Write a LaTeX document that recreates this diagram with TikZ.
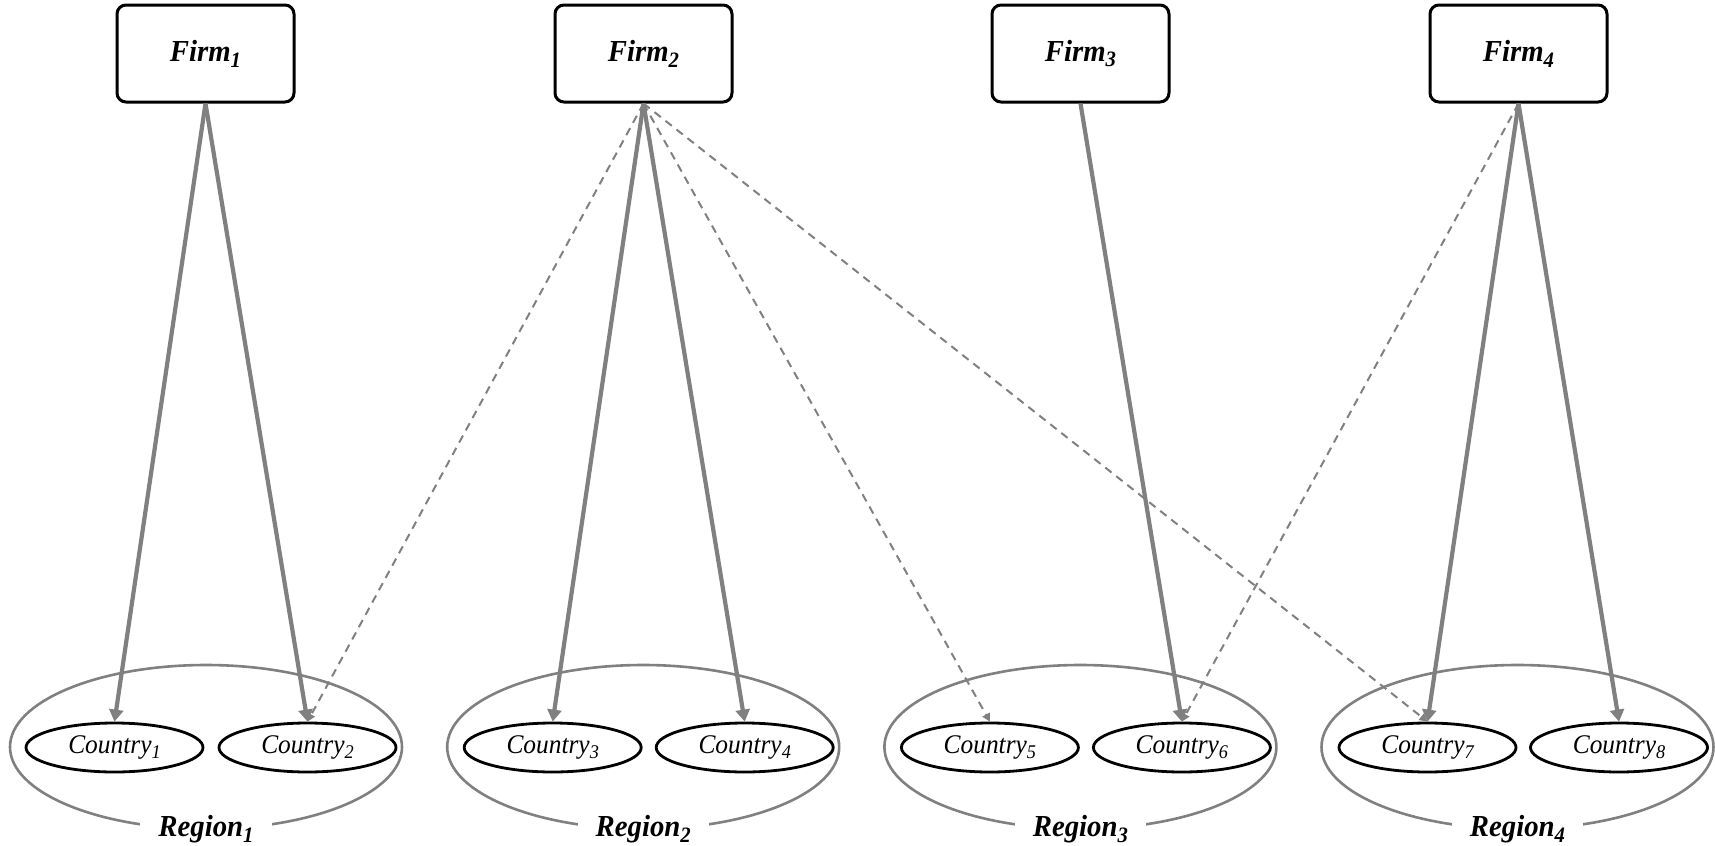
\documentclass[tikz,border=0pt]{standalone}
\usepackage{fontspec}
\setmainfont{Liberation Serif}
\usepackage{graphicx}
\usetikzlibrary{arrows.meta,shapes.geometric}
\definecolor{lgray}{HTML}{808080}
\newcommand{\lowsub}[1]{\raisebox{-0.42ex}{\scalebox{0.72}{#1}}}
\newcommand{\firmtxt}[1]{\scalebox{1}[1.06]{\fontsize{14.4pt}{16pt}\selectfont\bfseries\itshape Firm\lowsub{#1}}}
\newcommand{\ctrytxt}[1]{\scalebox{1}[1.06]{\fontsize{12.7pt}{14pt}\selectfont\itshape Country\lowsub{#1}}}
\newcommand{\regtxt}[1]{\scalebox{1}[1.06]{\fontsize{14.4pt}{16pt}\selectfont\bfseries\itshape Region\lowsub{#1}}}
\begin{document}
\begin{tikzpicture}[x=0.5pt,y=-0.5pt,
  firm/.style={draw=black, line width=1.5pt, rounded corners=4.5pt, minimum width=88.5pt, minimum height=48.5pt, fill=white, inner sep=0pt},
  country/.style={draw=black, line width=1.4pt, ellipse, minimum width=88.5pt, minimum height=24.5pt, inner sep=0pt},
  region/.style={draw=lgray, line width=1.3pt, ellipse, minimum width=196pt, minimum height=82pt, inner sep=0pt},
  rlabel/.style={fill=white, inner xsep=9pt, inner ysep=2pt},
  solidarrow/.style={draw=lgray, line width=2.1pt, -{Triangle[length=6pt,width=7pt]}},
  dasharrow/.style={draw=lgray, line width=1pt, dash pattern=on 4pt off 3pt, -{Triangle[length=4pt,width=4pt]}},
]
\useasboundingbox (0,0) rectangle (1715,846);
% regions
\foreach \i/\cx in {1/206,2/643.2,3/1080.4,4/1517.5}{
  \node[region] (r\i) at (\cx,747) {};
}
\foreach \i/\cx in {1/206,2/643.2,3/1080.4,4/1517.5}{
  \node[rlabel] (rl\i) at (\cx,829) {\regtxt{\i}};
}
% countries
\node[country] (c1) at (114.5,747.5) {\ctrytxt{1}};
\node[country] (c2) at (307.5,747.5) {\ctrytxt{2}};
\node[country] (c3) at (552.7,747.5) {\ctrytxt{3}};
\node[country] (c4) at (744.7,747.5) {\ctrytxt{4}};
\node[country] (c5) at (989.9,747.5) {\ctrytxt{5}};
\node[country] (c6) at (1181.9,747.5) {\ctrytxt{6}};
\node[country] (c7) at (1427.5,747.5) {\ctrytxt{7}};
\node[country] (c8) at (1619,747.5) {\ctrytxt{8}};
% firms
\node[firm] (f1) at (205.5,53.5) {\firmtxt{1}};
\node[firm] (f2) at (643.5,53.5) {\firmtxt{2}};
\node[firm] (f3) at (1080.5,53.5) {\firmtxt{3}};
\node[firm] (f4) at (1518.5,53.5) {\firmtxt{4}};
% dashed connectors
\draw[dasharrow] (f2.south) -- (c2.north);
\draw[dasharrow] (f2.south) -- (c5.north);
\draw[dasharrow] (f2.south) -- (c7.north);
\draw[dasharrow] (f4.south) -- (c6.north);
% solid connectors
\draw[solidarrow] (f1.south) -- (c1.north);
\draw[solidarrow] (f1.south) -- (c2.north);
\draw[solidarrow] (f2.south) -- (c3.north);
\draw[solidarrow] (f2.south) -- (c4.north);
\draw[solidarrow] (f3.south) -- (c6.north);
\draw[solidarrow] (f4.south) -- (c7.north);
\draw[solidarrow] (f4.south) -- (c8.north);
\end{tikzpicture}
\end{document}
